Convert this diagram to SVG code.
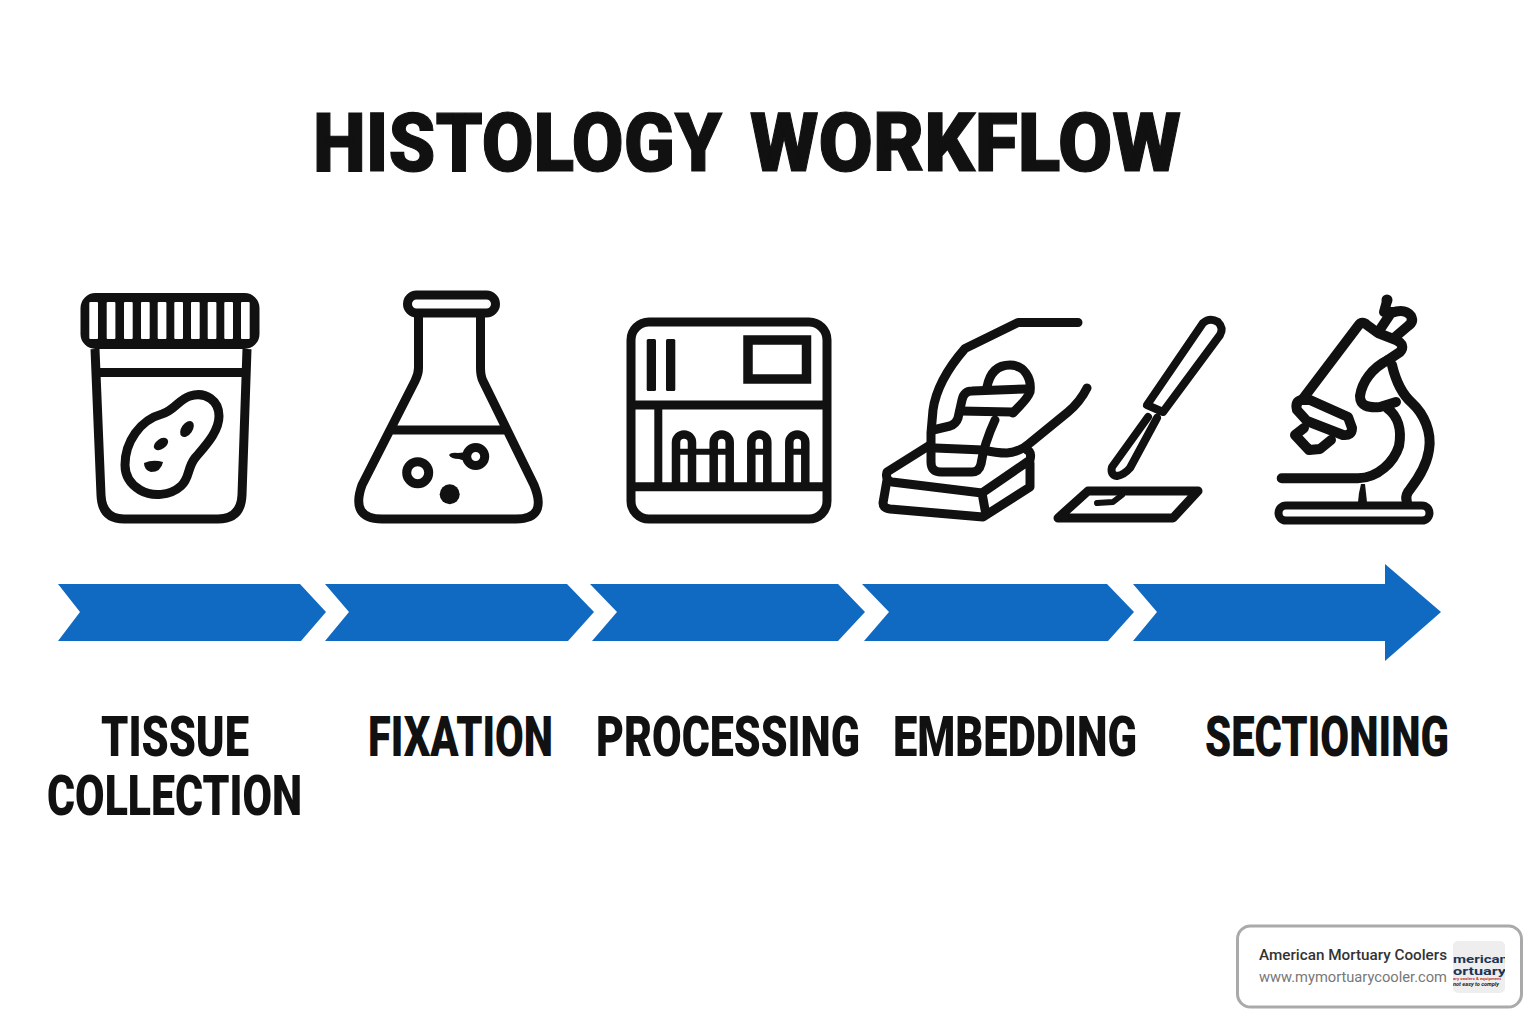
<svg xmlns="http://www.w3.org/2000/svg" width="1536" height="1024" viewBox="0 0 1536 1024">
<style>
.i{fill:none;stroke:#111;stroke-width:9;stroke-linecap:round;stroke-linejoin:round}
.k{fill:#111}
.w{fill:#fff}
.a{fill:#116ac1}
text{font-family:"Roboto","Liberation Sans",sans-serif}
.t{font-weight:900;fill:#111;font-size:64px;stroke:#111;stroke-width:.9px}
.l{font-weight:900;fill:#111;font-size:42px}
#microscope .i{stroke-width:10}
</style>
<defs><clipPath id="logoclip"><rect x="1453" y="941" width="52" height="52" rx="5"/></clipPath></defs>
<rect width="1536" height="1024" fill="#fff"/>
<text id="title" class="t" transform="translate(0 171) scale(1 1.27)"><tspan x="313" y="0" textLength="409" lengthAdjust="spacingAndGlyphs">HISTOLOGY</tspan> <tspan x="750" y="0" textLength="431" lengthAdjust="spacingAndGlyphs">WORKFLOW</tspan></text>

<g id="jar">
<rect x="84.500" y="297" width="171" height="48" rx="11" class="k" stroke="#111" stroke-width="8"/>
<g class="w"><rect x="89.3" y="302" width="8.7" height="37" rx="1"/><rect x="106.7" y="302" width="8.7" height="37" rx="1"/><rect x="124" y="302" width="8.7" height="37" rx="1"/><rect x="141" y="302" width="8.7" height="37" rx="1"/><rect x="157.7" y="302" width="8.7" height="37" rx="1"/><rect x="174.3" y="302" width="8.7" height="37" rx="1"/><rect x="191" y="302" width="8.7" height="37" rx="1"/><rect x="207.7" y="302" width="8.7" height="37" rx="1"/><rect x="224.3" y="302" width="8.7" height="37" rx="1"/><rect x="241" y="302" width="8.7" height="37" rx="1"/></g>
<path class="i" d="M95 349L101 495Q102 519 124 519H218Q241 519 242 495L247 349M95 372.500H247" style="stroke-linecap:butt"/>
<path class="i" d="M125 465C125 442 140 420 162 414C175 410 178 400 190 396C206 391 219 401 219 416C219 432 205 446 195 458C187 468 190 478 181 486C170 496 152 497 140 490C130 484 125 476 125 465Z"/>
<ellipse class="k" cx="187" cy="429" rx="5.500" ry="9" transform="rotate(35 187 429)"/>
<ellipse class="k" cx="161" cy="444" rx="8" ry="5" transform="rotate(-35 161 444)"/>
<path class="k" d="M144 463Q153 459 163 462Q161 472 151 472Q144 470 144 463Z"/>
</g>

<g id="flask">
<rect class="i" x="407.500" y="295" width="88" height="18" rx="9"/>
<path class="i" d="M418.500 316V368Q418.500 374 415 381L362 485Q350 519 382 519H516Q548 519 534 485L483 381Q480.500 376 480.500 368V316M391.500 430H506" style="stroke-linecap:butt"/>
<circle class="i" cx="417.700" cy="472.700" r="11"/>
<circle class="k" cx="449.700" cy="494.300" r="10"/>
<circle class="i" cx="475.700" cy="456.500" r="9"/>
<path class="k" d="M449 455Q451 452 458 453L468 452L468 462L459 459Q451 459 449 455Z"/>
</g>

<g id="processor">
<rect class="i" x="631" y="322" width="196" height="197" rx="18"/>
<rect class="k" x="646.700" y="339" width="9.300" height="52" rx="1.500"/>
<rect class="k" x="666" y="339" width="9.300" height="52" rx="1.500"/>
<rect class="i" x="748" y="340" width="58.500" height="39" style="stroke-width:9.500;stroke-linejoin:miter"/>
<path class="i" d="M631 405H827M631 486.700H827" style="stroke-linecap:butt"/>
<path class="i" d="M658.300 405V487" style="stroke-width:8;stroke-linecap:butt"/>
<path class="i" d="M676 487V442.500a8 8 0 0 1 16 0V487M713.700 487V442.500a8 8 0 0 1 16 0V487M751.300 487V442.500a8 8 0 0 1 16 0V487M789.300 487V442.500a8 8 0 0 1 16 0V487" style="stroke-width:8.500;stroke-linecap:butt"/>
<path class="i" d="M676 451.700H730M751 451.700H767M789 451.700H805" style="stroke-width:6;stroke-linecap:butt"/>
</g>

<g id="embedding">
<path class="i" d="M1078 322.500H1018L965 348.500C948 368 936 388 933 410L931 433V462Q931 472 941 472H972Q979 472 981 464Q984 444 995 420"/>
<path class="i" d="M933 430L950 426Q956 424 958 418L962 400Q964 391 972 391L1026 389"/>
<path class="i" d="M987 387C990 372 998 365 1010 365C1024 365 1032 378 1030 392C1027 400 1020 405 1013 413"/>
<path class="i" d="M960 411L1012 412"/>
<path class="i" d="M935 448L983 450Q996 453 1007 453Q1020 452 1030 443L1068 412Q1080 402 1087 388"/>
<path class="i" d="M930 445L887 472Q885 480 892 482L982 493L1030 460Q1032 452 1027 450M887 480L883 503Q883 508 890 509L983 517L1030 487V463M982 493L986 515"/>
<path class="i" d="M1147 405L1203 323Q1210 317 1218 322Q1224 328 1220 335L1163 412ZM1148 417L1112 467Q1110 475 1117 476Q1124 475 1130 468L1157 418" style="stroke-width:8"/>
<path class="i" d="M1088 491H1198L1173 518H1058Z"/>
<path class="i" d="M1097 503L1113 502L1122 495" style="stroke-width:6"/>
</g>

<g id="microscope">
<rect class="i" x="1278.500" y="505.500" width="151" height="15" rx="7.500" style="stroke-width:8"/>
<path class="i" d="M1281.700 478.300H1358C1378 478 1394 462 1399 446C1402 430 1398 416 1387 408"/>
<path class="i" d="M1392 365C1396 382 1403 395 1412 403C1424 414 1432 432 1429 450C1426 470 1413 485 1408 492Q1405 497 1407 502"/>
<path class="k" d="M1361 484H1365L1367 502H1358L1359 493Z"/>
<path class="i" d="M1388 360C1372 368 1362 382 1360 396C1360 406 1368 408 1380 407L1396 402"/>
<path class="i" d="M1302 400L1358 326Q1362 320 1367 325L1378 333L1396 340Q1406 345 1400 352L1388 360"/>
<path class="i" d="M1381 328L1391 313Q1405 308 1411 316Q1414 322 1408 326L1394 338"/>
<path class="i" d="M1387 301L1384 312L1394 312"/>
<circle class="k" cx="1387" cy="300" r="5.500"/>
<path class="i" d="M1310 400L1301 400Q1295 402 1297 410L1307 421L1343 435Q1352 436 1352 428L1348 417Z"/>
<path class="i" d="M1304 428L1295 435L1309 450L1320 449L1331 440"/>
</g>

<g id="connectors">
<polygon class="a" points="58,584 300,584 326,612 301,641 58,641 80,612"/>
<polygon class="a" points="325,584 567,584 594,612 568,641 325,641 349,612"/>
<polygon class="a" points="590,584 838,584 865,612 838,641 592,641 617,612"/>
<polygon class="a" points="862,584 1107,584 1134,612 1108,641 864,641 889,612"/>
<polygon class="a" points="1133,584 1385,584 1385,564 1441,612 1385,661 1385,641 1133,641 1157,612"/>
</g>

<g id="labels">
<text class="l" transform="translate(101 756) scale(1 1.3)" textLength="148" lengthAdjust="spacingAndGlyphs">TISSUE</text>
<text class="l" transform="translate(47 815) scale(1 1.3)" textLength="255" lengthAdjust="spacingAndGlyphs">COLLECTION</text>
<text class="l" transform="translate(368 756) scale(1 1.3)" textLength="185" lengthAdjust="spacingAndGlyphs">FIXATION</text>
<text class="l" transform="translate(596 756) scale(1 1.3)" textLength="264" lengthAdjust="spacingAndGlyphs">PROCESSING</text>
<text class="l" transform="translate(893 756) scale(1 1.3)" textLength="244" lengthAdjust="spacingAndGlyphs">EMBEDDING</text>
<text class="l" transform="translate(1205 756) scale(1 1.3)" textLength="244" lengthAdjust="spacingAndGlyphs">SECTIONING</text>
</g>

<g id="badge">
<rect x="1237.500" y="926" width="284" height="81" rx="13" fill="#fff" stroke="#aaa" stroke-width="3"/>
<text x="1259" y="960" font-size="14.500" font-weight="500" fill="#333" textLength="188" lengthAdjust="spacingAndGlyphs">American Mortuary Coolers</text>
<text x="1259" y="982" font-size="14.500" fill="#777" textLength="188" lengthAdjust="spacingAndGlyphs">www.mymortuarycooler.com</text>
<rect x="1453" y="941" width="52" height="52" rx="5" fill="#eee"/>
<g clip-path="url(#logoclip)">
<text x="1453" y="962.500" font-size="11" font-weight="700" fill="#1c3557" textLength="55" lengthAdjust="spacingAndGlyphs">merican</text>
<text x="1453" y="975" font-size="11" font-weight="700" fill="#1c3557" textLength="53" lengthAdjust="spacingAndGlyphs">ortuary</text>
<text x="1453" y="980" font-size="4" font-weight="700" fill="#c0392b" textLength="48" lengthAdjust="spacingAndGlyphs">ary coolers &amp; equipment</text>
<text x="1453" y="985.500" font-size="5" font-weight="700" font-style="italic" fill="#222" textLength="46" lengthAdjust="spacingAndGlyphs">not easy to comply</text>
</g>
</g>
</svg>
